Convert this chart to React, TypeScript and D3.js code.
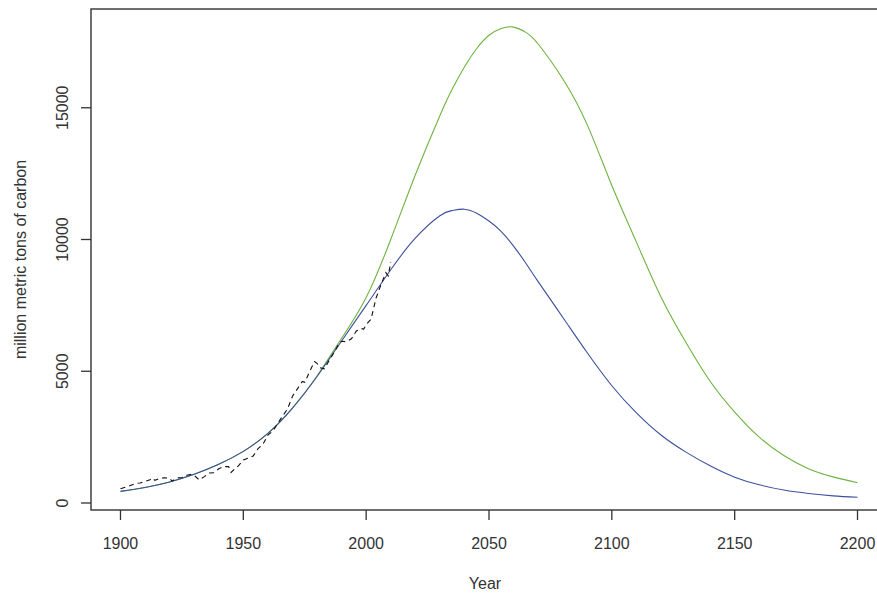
import React from 'react';
import { scaleLinear, line, curveNatural, curveLinear } from 'd3';

// model years shared by both projection curves
const years = [
  1900, 1910, 1920, 1930, 1940, 1950, 1960, 1970, 1980, 1990, 2000, 2010, 2020,
  2030, 2035, 2040, 2045, 2050, 2055, 2060, 2065, 2070, 2080, 2090, 2100, 2110,
  2120, 2130, 2140, 2150, 2160, 2170, 2180, 2190, 2200
];

const blueSeries = [
  440, 590, 800, 1090, 1470, 1960, 2640, 3600, 4800, 6150, 7500, 8850, 10050,
  10900, 11100, 11150, 11000, 10700, 10300, 9750, 9100, 8400, 7050, 5700, 4450, 3420,
  2580, 1940, 1410, 980, 690, 490, 360, 270, 215
];

const greenSeries = [
  440, 590, 800, 1090, 1470, 1960, 2640, 3600, 4820, 6250, 7800, 10000, 12450,
  14700, 15700, 16550, 17250, 17750, 18010, 18060, 17860, 17420, 16100, 14350, 12050, 9900,
  7820, 6120, 4620, 3450, 2500, 1800, 1300, 990, 770
];

// observed emissions (dashed)
const histYears = [
  1900, 1902, 1904, 1906, 1908, 1910, 1912, 1913, 1914, 1916, 1918, 1920, 1921,
  1923, 1925, 1927, 1929, 1930, 1932, 1934, 1936, 1938, 1940, 1942, 1944, 1945,
  1946, 1948, 1950, 1952, 1954, 1956, 1958, 1960, 1962, 1964, 1966, 1968, 1970,
  1972, 1974, 1975, 1977, 1979, 1980, 1981, 1983, 1985, 1987, 1989, 1990, 1992,
  1994, 1996, 1998, 1999, 2000, 2002, 2004, 2006, 2008, 2009, 2010
];

const histValues = [
  540, 600, 660, 740, 760, 820, 880, 950, 860, 930, 960, 940, 830,
  950, 970, 1050, 1090, 1050, 880, 990, 1140, 1150, 1300, 1380, 1380, 1160,
  1250, 1410, 1630, 1700, 1780, 2060, 2230, 2580, 2730, 3020, 3300, 3570, 4050,
  4330, 4610, 4580, 4990, 5370, 5300, 5140, 5090, 5420, 5720, 6060, 6140, 6120,
  6230, 6530, 6620, 6600, 6770, 6980, 7770, 8280, 8740, 8620, 9140
];

const xTicks = [1900, 1950, 2000, 2050, 2100, 2150, 2200];
const yTicks = [0, 5000, 10000, 15000];

const W = 877;
const H = 594;
const left = 91;
const right = 887;
const top = 9;
const bottom = 510;
const font = 'Liberation Sans, Arial, sans-serif';

const App = () => {
  const x = scaleLinear().domain([1888, 2212]).range([left, right]);
  const y = scaleLinear().domain([-266, 18748]).range([bottom, top]);

  const curve = (vals: number[]) =>
    line<number>()
      .x((d, i) => x(years[i]))
      .y(d => y(d))
      .curve(curveNatural)(vals) as string;

  const hist = line<number>()
    .x((d, i) => x(histYears[i]))
    .y(d => y(d))
    .curve(curveLinear)(histValues) as string;

  return (
    <svg width={W} height={H} style={{ position: 'absolute', left: 0, top: 0, background: '#fff' }}>
      <rect x={0} y={0} width={W} height={H} fill="#fff" />
      <path d={curve(greenSeries)} fill="none" stroke="#6db33f" strokeWidth={1.1} />
      <path d={curve(blueSeries)} fill="none" stroke="#3c4f9c" strokeWidth={1.1} />
      <path d={hist} fill="none" stroke="#111" strokeWidth={1.1} strokeDasharray="5,4" />

      <rect x={left} y={top} width={right - left} height={bottom - top}
        fill="none" stroke="#333" strokeWidth={1.4} />

      {xTicks.map(t => (
        <g key={t}>
          <line x1={x(t)} x2={x(t)} y1={bottom} y2={bottom + 10} stroke="#333" strokeWidth={1.3} />
          <text x={x(t)} y={549} textAnchor="middle" fontFamily={font} fontSize={16} fill="#333">{t}</text>
        </g>
      ))}
      {yTicks.map(t => (
        <g key={t}>
          <line x1={left} x2={left - 10} y1={y(t)} y2={y(t)} stroke="#333" strokeWidth={1.3} />
          <text transform={`translate(68,${y(t)}) rotate(-90)`} textAnchor="middle"
            fontFamily={font} fontSize={16} fill="#333">{t}</text>
        </g>
      ))}

      <text x={485} y={589} textAnchor="middle" fontFamily={font} fontSize={16} fill="#333">Year</text>
      <text transform={`translate(26,${(top + bottom) / 2}) rotate(-90)`} textAnchor="middle"
        fontFamily={font} fontSize={16} fill="#333">million metric tons of carbon</text>
    </svg>
  );
};

export default App;
